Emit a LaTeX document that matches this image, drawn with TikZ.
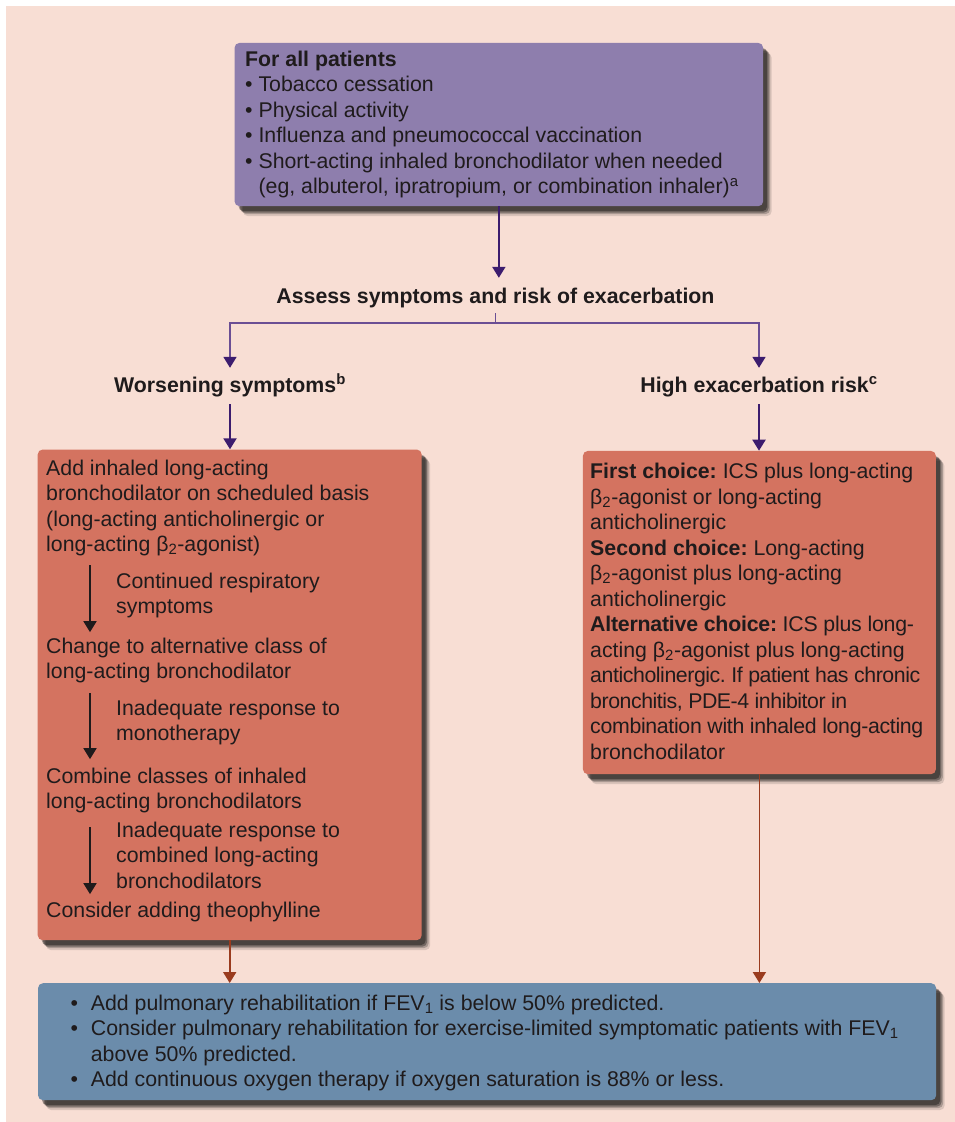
\documentclass[tikz,border=0pt]{standalone}
\usepackage{fontspec}
\setmainfont{Liberation Sans}
\usetikzlibrary{arrows.meta,shadows}

\definecolor{paper}{HTML}{F8DED4}
\definecolor{lilac}{HTML}{8E7EAD}
\definecolor{brick}{HTML}{D47360}
\definecolor{steel}{HTML}{6B8CAB}
\definecolor{ink}{HTML}{1F1B1C}
\definecolor{plum}{HTML}{3C1C6E}
\definecolor{mauve}{HTML}{6B4E94}
\definecolor{rust}{HTML}{9A3B1E}

\newcommand{\fs}{\fontsize{21.3}{25.5}\selectfont\frenchspacing}
\newcommand{\bt}{β\textsubscript{2}}
\newcommand{\itm}{\llap{•\hspace{12.7pt}}}
\newcommand{\tight}[2]{{\addfontfeatures{LetterSpace=#1}#2}}

\begin{document}
\begin{tikzpicture}[x=1pt, y=-1pt, font=\fs, text=ink,
        box/.style = {anchor=north west, rounded corners=5pt, inner sep=0pt,
            general shadow={fill=black, opacity=0.12, shadow xshift=8.5pt, shadow yshift=-10pt},
            general shadow={fill=black, opacity=0.22, shadow xshift=7pt, shadow yshift=-8pt},
            general shadow={fill=black, opacity=0.32, shadow xshift=5.5pt, shadow yshift=-6.5pt},
            general shadow={fill=black, opacity=0.35, shadow xshift=4pt, shadow yshift=-5pt}},
        txt/.style = {anchor=north west, align=left, inner sep=0pt},
        label/.style = {anchor=base, font=\fs\bfseries, inner xsep=0pt},
        flow/.style = {line width=2pt, plum, -{Triangle[width=13pt, length=11pt]}},
        branch/.style = {line width=1.8pt, mauve},
        bendtip/.style = {-{Triangle[width=13pt, length=11pt, color=plum]}},
        stepar/.style = {line width=1.8pt, ink, -{Triangle[width=13pt, length=11pt]}},
        feedar/.style = {line width=1.8pt, rust, -{Triangle[width=13pt, length=11pt]}}]
    \fill[white] (0,0) rectangle (955,1122);
    \fill[paper] (6,6) rectangle (955,1122);
    \useasboundingbox (0,0) rectangle (955,1122);

    % boxes
    \node[box, fill=lilac, minimum width=528.7, minimum height=163.3] (top) at (234.3,42.7) {};
    \node[box, fill=brick, minimum width=384, minimum height=490.7] (left) at (37.5,449.3) {};
    \node[box, fill=brick, minimum width=353, minimum height=323.3] (right) at (582.7,450.7) {};
    \node[box, fill=steel, minimum width=898.2, minimum height=117] (bottom) at (37.8,983) {};

    \node[txt] (plan) at (245,48.15) {\strut\textbf{For all patients}\\
        • Tobacco cessation\\
        • Physical activity\\
        • Influenza and pneumococcal vaccination\\
        • Short-acting inhaled bronchodilator when needed\\
        \phantom{• }(eg, albuterol, ipratropium, or combination inhaler)\textsuperscript{a}};

    \node[label, text height=19.4pt, text depth=4.4pt, inner ysep=5.6pt] (assess) at (495.5,303) {Assess symptoms and risk of exacerbation};
    \node[label, text height=24pt, text depth=12pt, inner ysep=0pt] (worse) at (230,392) {Worsening symptoms\textsuperscript{b}};
    \node[label, text height=24pt, text depth=12pt, inner ysep=0pt] (risk) at (759,392) {High exacerbation risk\textsuperscript{c}};

    % left column steps
    \node[txt] (s1) at (46,457.15) {\strut Add inhaled long-acting\\ bronchodilator on scheduled basis\\ (long-acting anticholinergic or\\ long-acting \bt-agonist)};
    \node[txt] (r1) at (116,570.15) {\strut Continued respiratory\\ symptoms};
    \node[txt] (s2) at (46,635.15) {\strut Change to alternative class of\\ long-acting bronchodilator};
    \node[txt] (r2) at (116,697.15) {\strut Inadequate response to\\ monotherapy};
    \node[txt] (s3) at (46,765.15) {\strut Combine classes of inhaled\\ long-acting bronchodilators};
    \node[txt] (r3) at (116,819.15) {\strut Inadequate response to\\ combined long-acting\\ bronchodilators};
    \node[txt] (s4) at (46,899.15) {\strut Consider adding theophylline};

    \node[txt] (opts) at (590,460.45) {\strut\textbf{First choice:} ICS plus long-acting\\
        \bt-agonist or long-acting\\
        anticholinergic\\
        \textbf{Second choice:} Long-acting\\
        \bt-agonist plus long-acting\\
        anticholinergic\\
        \tight{-1}{\textbf{Alternative choice:} ICS plus long-}\\
        acting \bt-agonist plus long-acting\\
        \tight{-2}{anticholinergic. If patient has chronic}\\
        \tight{-2.1}{bronchitis, PDE-4 inhibitor in}\\
        \tight{-1.5}{combination with inhaled long-acting}\\
        bronchodilator};

    \node[txt] (advice) at (90.7,992.15) {\strut\itm Add pulmonary rehabilitation if FEV\textsubscript{1} is below 50\% predicted.\\
        \itm Consider pulmonary rehabilitation for exercise-limited symptomatic patients with FEV\textsubscript{1}\\
        above 50\% predicted.\\
        \itm Add continuous oxygen therapy if oxygen saturation is 88\% or less.};

    \draw[flow] (top.south) -- (top.south |- assess.north);
    \draw[branch] (assess.south) -- ++(0,10) coordinate (fork);
    \draw[branch, bendtip] (fork) -| (worse.north);
    \draw[branch, bendtip] (fork) -| (risk.north);
    \draw[flow] (worse.south) -- (worse.south |- left.north);
    \draw[flow] (risk.south) -- (risk.south |- right.north);

    \draw[stepar] ([shift={(-26,-5)}]r1.north west) -- ([shift={(44,-3)}]s2.north west);
    \draw[stepar] ([shift={(-26,-4)}]r2.north west) -- ([shift={(44,-6)}]s3.north west);
    \draw[stepar] ([shift={(-26,8)}]r3.north west) -- ([shift={(44,-5)}]s4.north west);

    \draw[feedar] (left.south) -- (left.south |- bottom.north);
    \draw[feedar] (right.south) -- (right.south |- bottom.north);
\end{tikzpicture}
\end{document}
